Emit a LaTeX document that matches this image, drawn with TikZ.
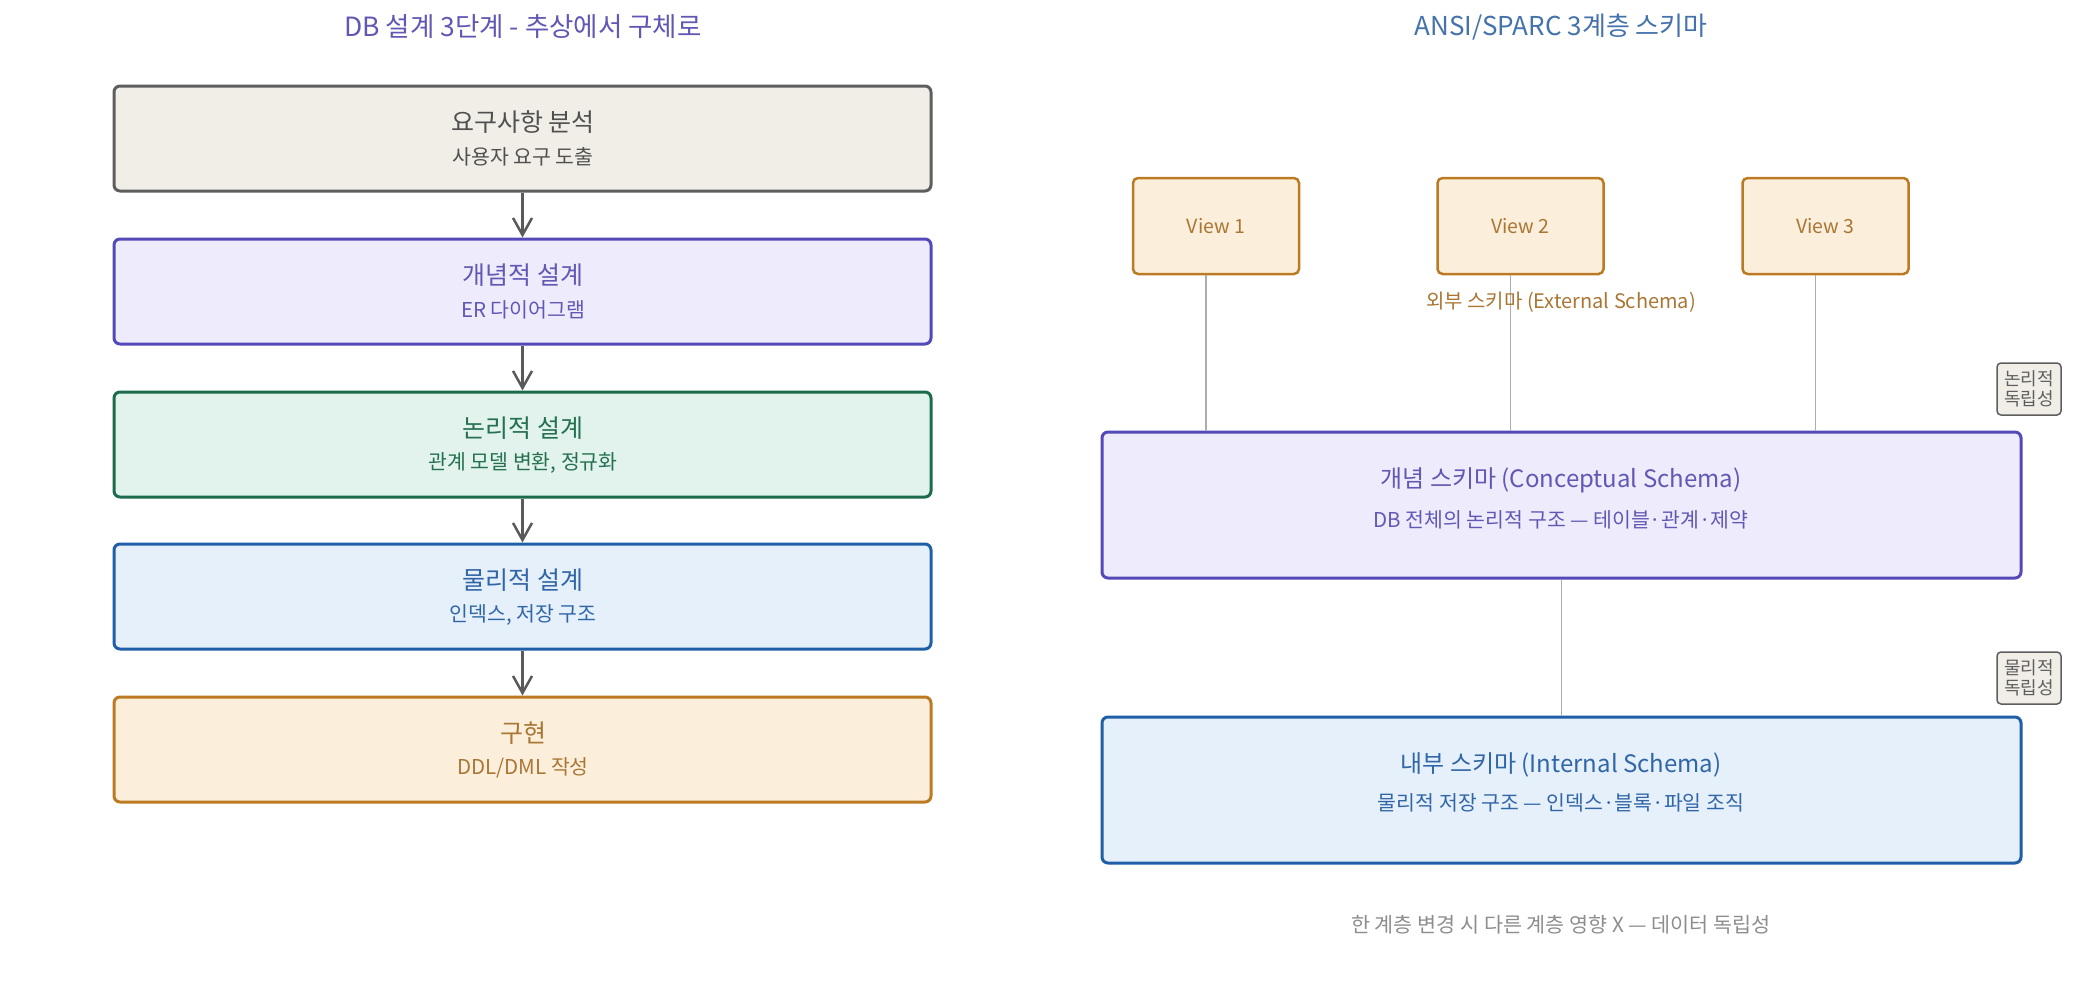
\documentclass[tikz,border=0pt]{standalone}
\usepackage{fontspec}
\setmainfont{Noto Sans CJK KR}
\usetikzlibrary{arrows.meta}
\definecolor{gfill}{HTML}{F1EEE8}\definecolor{gdraw}{HTML}{5E5E5E}\definecolor{gtext}{HTML}{505050}
\definecolor{pfill}{HTML}{EEECFC}\definecolor{pdraw}{HTML}{5449B8}\definecolor{ptext}{HTML}{6058B4}
\definecolor{efill}{HTML}{E1F3EC}\definecolor{edraw}{HTML}{1B6B4C}\definecolor{etext}{HTML}{24704F}
\definecolor{bfill}{HTML}{E6F0FB}\definecolor{bdraw}{HTML}{1F5FA8}\definecolor{btext}{HTML}{3066A6}
\definecolor{ofill}{HTML}{FBEEDB}\definecolor{odraw}{HTML}{BC7A22}\definecolor{otext}{HTML}{AA7634}
\definecolor{lgray}{HTML}{ADADAD}\definecolor{agray}{HTML}{5A5A5A}\definecolor{ntext}{HTML}{8E8E8E}
\definecolor{rtitle}{HTML}{4472AA}
\newcommand\fsz[1]{\fontsize{#1}{#1}\selectfont}
\tikzset{
  box/.style={draw, rounded corners=6, line width=3, inner sep=0, minimum width=817, minimum height=105},
  bigbox/.style={draw, rounded corners=6, line width=3, inner sep=0, minimum width=919, minimum height=146},
  viewbox/.style={draw=odraw, fill=ofill, rounded corners=5, line width=2.5, inner sep=0, minimum width=166, minimum height=96, text=otext, font=\fsz{19.5}},
  indbox/.style={draw=gdraw, fill=gfill, rounded corners=4, line width=1.5, inner sep=0, minimum width=64, minimum height=52, text=gdraw, align=center, font=\fsz{18}},
  ttl/.style={inner sep=0, font=\fsz{25}},
  sub/.style={inner sep=0, font=\fsz{20.5}},
  flow/.style={draw=agray, line width=2.5, -{Straight Barb[length=17pt,width=19pt]}},
  link/.style={draw=lgray, line width=1.8}
}
\begin{document}
\begin{tikzpicture}[x=1pt,y=-1pt]
\useasboundingbox[fill=white] (0,0) rectangle (2085,998);
% titles
\node[inner sep=0, font=\fsz{26.5}, text=ptext] (lt) at (523,27) {DB 설계 3단계 - 추상에서 구체로};
\node[inner sep=0, font=\fsz{26}, text=rtitle] (rt) at (1561,27) {ANSI/SPARC 3계층 스키마};
% left flow
\node[box, draw=gdraw, fill=gfill] (b1) at (522.5,138.5) {};
\node[box, draw=pdraw, fill=pfill] (b2) at (522.5,291.5) {};
\node[box, draw=edraw, fill=efill] (b3) at (522.5,444.5) {};
\node[box, draw=bdraw, fill=bfill] (b4) at (522.5,596.5) {};
\node[box, draw=odraw, fill=ofill] (b5) at (522.5,749.5) {};
\node[ttl, text=gtext] (b1t) at (523,122) {요구사항 분석};
\node[sub, text=gtext] (b1s) at (523,157) {사용자 요구 도출};
\node[ttl, text=ptext] (b2t) at (523,275) {개념적 설계};
\node[sub, text=ptext] (b2s) at (523,310) {ER 다이어그램};
\node[ttl, text=etext] (b3t) at (523,428) {논리적 설계};
\node[sub, text=etext] (b3s) at (523,463) {관계 모델 변환, 정규화};
\node[ttl, text=btext] (b4t) at (523,580) {물리적 설계};
\node[sub, text=btext] (b4s) at (523,615) {인덱스, 저장 구조};
\node[ttl, text=otext] (b5t) at (523,733) {구현};
\node[sub, text=otext] (b5s) at (523,768) {DDL/DML 작성};
\draw[flow] (b1.south) -- (b2.north);
\draw[flow] (b2.south) -- (b3.north);
\draw[flow] (b3.south) -- (b4.north);
\draw[flow] (b4.south) -- (b5.north);
% right: ANSI/SPARC
\node[viewbox] (v1) at (1216,226) {View 1};
\node[viewbox] (v2) at (1520.5,226) {View 2};
\node[viewbox] (v3) at (1825.5,226) {View 3};
\node[bigbox, draw=pdraw, fill=pfill] (cs) at (1561.5,505) {};
\node[bigbox, draw=bdraw, fill=bfill] (is) at (1561.5,790) {};
\draw[link] ([xshift=-10]v1.south) -- ([xshift=-10]v1.south |- cs.north);
\draw[link] ([xshift=-10]v2.south) -- ([xshift=-10]v2.south |- cs.north);
\draw[link] ([xshift=-10]v3.south) -- ([xshift=-10]v3.south |- cs.north);
\draw[link] (cs.south) -- (is.north);
\node[inner sep=0, font=\fsz{20}, text=otext] (ext) at (1561,302) {외부 스키마 (External Schema)};
\node[ttl, font=\fsz{24}, text=ptext] (cst) at (1561,480) {개념 스키마 (Conceptual Schema)};
\node[sub, font=\fsz{20.5}, text=ptext] (css) at (1561,520) {DB 전체의 논리적 구조 — 테이블·관계·제약};
\node[ttl, font=\fsz{24}, text=btext] (ist) at (1561,765) {내부 스키마 (Internal Schema)};
\node[sub, font=\fsz{20.5}, text=btext] (iss) at (1561,803) {물리적 저장 구조 — 인덱스·블록·파일 조직};
\node[indbox] (li) at (2029,389) {논리적\\[2pt]독립성};
\node[indbox] (pi) at (2029,678) {물리적\\[2pt]독립성};
\node[inner sep=0, font=\fsz{20.7}, text=ntext] (note) at (1561,925) {한 계층 변경 시 다른 계층 영향 X — 데이터 독립성};
\end{tikzpicture}
\end{document}
